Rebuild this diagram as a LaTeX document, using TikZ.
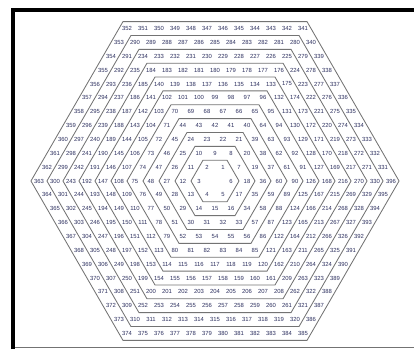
\documentclass[tikz,border=0pt]{standalone}
\usepackage{fontspec}
\setmainfont{Liberation Sans}
\usepackage{tikz}
\usetikzlibrary{calc}
\definecolor{numblue}{RGB}{45,48,95}
\definecolor{linegray}{RGB}{115,115,115}

\begin{document}
\begin{tikzpicture}[x=0.025cm, y=0.025cm,
  cell/.style={inner sep=0pt, text=numblue, font=\fontsize{4.2}{5}\selectfont},
  hexline/.style={draw=linegray, line width=0.6pt}]
\useasboundingbox (0,0) rectangle (414,349);

% frame
\draw[line width=0.1cm] (13,0) -- (13,339) -- (414,339);
\draw[linegray, line width=0.7pt] (15,1.5) -- (414,1.5);

\begin{scope}[shift={(215,168)}, x=0.4cm, y=0.4cm]
% hexagon rings
\foreach \r in {1.5,2.5,...,11.5}
  \draw[hexline] (0:\r) -- (60:\r) -- (120:\r) -- (180:\r) -- (240:\r) -- (300:\r) -- cycle;

% numbers, counterclockwise from the right vertex
\foreach \k in {1,...,11}
  \foreach \s in {0,...,5}
    \foreach \j in {1,...,\k} {
      \pgfmathtruncatemacro\num{1+3*\k*(\k-1)+\s*\k+\j-1}
      \node[cell] (n\num) at ($(\s*60:\k)!\j/\k!(\s*60+60:\k)$) {\num};
    }
\end{scope}
\end{tikzpicture}
\end{document}
